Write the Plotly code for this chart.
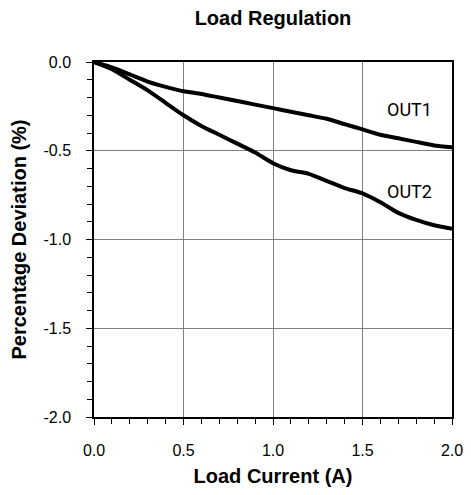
import plotly.graph_objects as go

load_current = [0.0, 0.1, 0.2, 0.3, 0.4, 0.5, 0.6, 0.7, 0.8, 0.9, 1.0,
                1.1, 1.2, 1.3, 1.4, 1.5, 1.6, 1.7, 1.8, 1.9, 2.0]
out1 = [0.0, -0.03, -0.07, -0.11, -0.14, -0.165, -0.18, -0.20, -0.22, -0.24, -0.26,
        -0.28, -0.30, -0.32, -0.35, -0.38, -0.41, -0.43, -0.45, -0.47, -0.48]
out2 = [0.0, -0.04, -0.10, -0.16, -0.23, -0.30, -0.36, -0.41, -0.46, -0.51, -0.57,
        -0.61, -0.63, -0.67, -0.71, -0.74, -0.79, -0.85, -0.89, -0.92, -0.94]
series_names = ["OUT1", "OUT2"]
label_pos = [(1.76, -0.27), (1.76, -0.73)]
x_ticks = [0.0, 0.5, 1.0, 1.5, 2.0]
y_ticks = [0.0, -0.5, -1.0, -1.5, -2.0]

# page body has an 8px margin; figure is sized/margined to compensate
W, H = 463, 479
fig = go.Figure()
for name, ys in zip(series_names, [out1, out2]):
    fig.add_trace(go.Scatter(x=load_current, y=ys, mode="lines", name=name,
                             line=dict(color="black", width=4, shape="spline", smoothing=0.6),
                             showlegend=False))

for name, (lx, ly) in zip(series_names, label_pos):
    fig.add_annotation(x=lx, y=ly, text=name, showarrow=False,
                       font=dict(family="Roboto", size=18, color="black"),
                       xanchor="center", yanchor="middle")

fig.update_layout(
    width=W, height=H,
    margin=dict(l=86, r=19, t=54, b=70, autoexpand=False),
    paper_bgcolor="white", plot_bgcolor="white",
    font=dict(family="Liberation Sans, Arial", color="black"),
    title=dict(text="<b>Load Regulation</b>", x=265 / W, xanchor="center",
               y=1 - 10 / H, yanchor="middle", font=dict(size=20)),
)
fig.update_xaxes(
    range=[0, 2], tickvals=x_ticks, ticktext=[f"{v:.1f}" for v in x_ticks],
    showgrid=True, gridcolor="#808080", gridwidth=1,
    showline=True, linecolor="black", linewidth=1.5, mirror=True,
    ticks="outside", ticklen=6, tickcolor="black", tickfont=dict(size=16),
    ticklabelstandoff=12,
    minor=dict(dtick=0.1, ticks="outside", ticklen=5, tickcolor="black", showgrid=False),
    title=dict(text="<b>Load Current (A)</b>", font=dict(size=20), standoff=20),
    zeroline=False, automargin=False,
)
fig.update_yaxes(
    range=[-2, 0], tickvals=y_ticks, ticktext=[f"{v:.1f}" for v in y_ticks],
    showgrid=True, gridcolor="#808080", gridwidth=1,
    showline=True, linecolor="black", linewidth=1.5, mirror=True,
    ticks="outside", ticklen=6, tickcolor="black", tickfont=dict(size=16),
    ticklabelstandoff=12,
    minor=dict(dtick=0.1, ticks="outside", ticklen=5, tickcolor="black", showgrid=False),
    title=dict(text="<b>Percentage Deviation (%)</b>", font=dict(size=20), standoff=11),
    zeroline=False, automargin=False,
)
fig.write_html("out.html")
